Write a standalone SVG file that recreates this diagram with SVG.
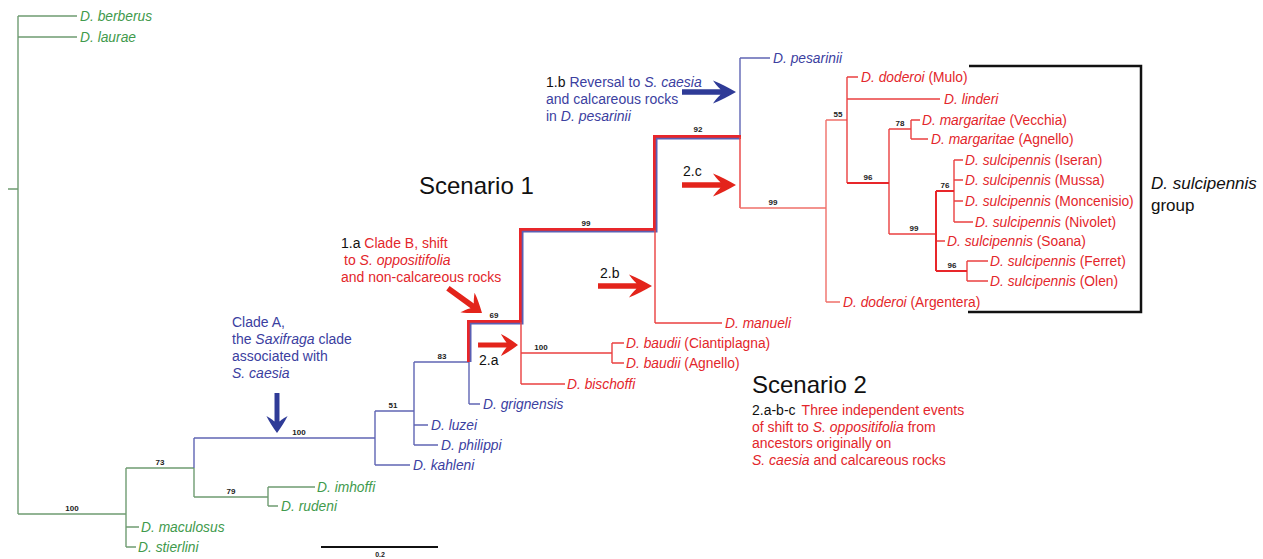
<svg xmlns="http://www.w3.org/2000/svg" xmlns:xlink="http://www.w3.org/1999/xlink" width="1263" height="559" viewBox="0 0 1263 559">
<style>
text{font-family:"Liberation Sans",Arial,sans-serif}
.sp{font-size:13.8px;font-style:italic}
.n{font-style:normal}
.it{font-style:italic}
.g{fill:#3f9a4c}
.b{fill:#3b409f}
.r{fill:#e3262b}
.k{fill:#111}
.bs{font-size:8px;font-weight:bold;fill:#222;text-anchor:middle}
.ann{font-size:14px}
.scen{font-size:24px;fill:#111}
.lg{stroke:#6f9c72;stroke-width:1.4;fill:none}
.lb{stroke:#6065b4;stroke-width:1.4;fill:none}
.lr{stroke:#ea4040;stroke-width:1.4;fill:none}
.lr2{stroke:#e8262a;stroke-width:2;fill:none}
</style>
<defs>
<path id="arr" d="M0,0 C-8,-4.5 -15,-8.5 -23,-11.5 C-19.5,-6.5 -17.5,-4.5 -15.5,-2.7 L-54,-2.7 L-54,2.7 L-15.5,2.7 C-17.5,4.5 -19.5,6.5 -23,11.5 C-15,8.5 -8,4.5 0,0 Z"/>
</defs>
<rect width="1263" height="559" fill="#fff"/>

<g id="connectors">
  <path class="lg" d="M8,189 H18 M18,16 V514 M18,16 H77 M18,37 H77 M18,514 H126 M126,468 V547 M126,527 H139 M126,547 H136 M126,468 H194 M194,468 V497 M194,497 H268 M268,487 V506 M268,487 H315 M268,506 H278"/>
  <path class="lb" d="M194,438 V468 M194,438 H375 M375,411 V465 M375,465 H410 M375,411 H414 M414,362 V445 M414,425 H428 M414,445 H438 M414,362 H469 M469,362 V404 M469,404 H480 M740,58 V137 M740,58 H770"/>
  <path d="M469,362 V322 H521 V230 H655 V137 H741" stroke="#e8262a" stroke-width="4" fill="none"/>
  <path d="M470.6,362 V323.6 H522.6 V231.6 H656.6 V138.6 H740" stroke="#5a5fb3" stroke-width="1.8" fill="none"/>
  <path class="lr" d="M521,322 V384 M521,353 H612 M521,384 H565 M612,343 V363 M612,343 H624 M612,363 H624 M655,230 V323 M655,323 H722 M740,137 V208"/>
  <path stroke="#f0706a" stroke-width="1.4" fill="none" d="M740,208 H826 M826,120 V302 M826,302 H840 M826,120 H847"/>
  <path class="lr" d="M847,77 V183 M847,77 H858 M847,99 H940 M889,129 V234 M889,129 H911 M911,120 V139 M911,120 H920 M911,139 H928 M889,234 H936 M936,241 H945 M954,160 V222 M954,160 H963 M954,180 H963 M954,201 H963 M954,222 H973 M967,261 V281 M967,261 H988 M967,281 H988"/>
  <path class="lr2" d="M847,183 H889 M936,191 V271 M936,191 H954 M936,271 H967"/>
  <path d="M969,66 H1141 V312 H968" stroke="#111" stroke-width="2.5" fill="none"/>
  <path d="M321,547 H438" stroke="#111" stroke-width="1.8"/>
</g>

<g id="bootstrap">
  <text class="bs" x="72" y="511">100</text>
  <text class="bs" x="160" y="465">73</text>
  <text class="bs" x="231" y="494">79</text>
  <text class="bs" x="299" y="435">100</text>
  <text class="bs" x="393" y="408">51</text>
  <text class="bs" x="442" y="359">83</text>
  <text class="bs" x="494" y="318">69</text>
  <text class="bs" x="586" y="226">99</text>
  <text class="bs" x="698" y="132">92</text>
  <text class="bs" x="541" y="350">100</text>
  <text class="bs" x="773" y="205">99</text>
  <text class="bs" x="838" y="117">55</text>
  <text class="bs" x="868" y="180">96</text>
  <text class="bs" x="900" y="126">78</text>
  <text class="bs" x="914" y="231">99</text>
  <text class="bs" x="945" y="188">76</text>
  <text class="bs" x="952" y="268">96</text>
  <text class="bs" x="380" y="557" style="font-size:7px">0.2</text>
</g>

<g id="n-berberus"><text class="sp g" x="80" y="21">D. berberus</text></g>
<g id="n-laurae"><text class="sp g" x="80" y="42">D. laurae</text></g>
<g id="n-maculosus"><text class="sp g" x="141" y="532">D. maculosus</text></g>
<g id="n-stierlini"><text class="sp g" x="138" y="552">D. stierlini</text></g>
<g id="n-imhoffi"><text class="sp g" x="317" y="492">D. imhoffi</text></g>
<g id="n-rudeni"><text class="sp g" x="281" y="511">D. rudeni</text></g>

<g id="n-kahleni"><text class="sp b" x="413" y="470">D. kahleni</text></g>
<g id="n-luzei"><text class="sp b" x="431" y="430">D. luzei</text></g>
<g id="n-philippi"><text class="sp b" x="441" y="450">D. philippi</text></g>
<g id="n-grignensis"><text class="sp b" x="483" y="409">D. grignensis</text></g>
<g id="n-pesarinii"><text class="sp b" x="773" y="63">D. pesarinii</text></g>

<g id="n-bischoffi"><text class="sp r" x="567" y="389">D. bischoffi</text></g>
<g id="n-baudii-c"><text class="sp r" x="626" y="348">D. baudii <tspan class="n">(Ciantiplagna)</tspan></text></g>
<g id="n-baudii-a"><text class="sp r" x="626" y="368">D. baudii <tspan class="n">(Agnello)</tspan></text></g>
<g id="n-manueli"><text class="sp r" x="725" y="328">D. manueli</text></g>
<g id="n-doderoi-m"><text class="sp r" x="861" y="82">D. doderoi <tspan class="n">(Mulo)</tspan></text></g>
<g id="n-linderi"><text class="sp r" x="944" y="104">D. linderi</text></g>
<g id="n-marg-v"><text class="sp r" x="922" y="125">D. margaritae <tspan class="n">(Vecchia)</tspan></text></g>
<g id="n-marg-a"><text class="sp r" x="931" y="144">D. margaritae <tspan class="n">(Agnello)</tspan></text></g>
<g id="n-sulc-is"><text class="sp r" x="965" y="165">D. sulcipennis <tspan class="n">(Iseran)</tspan></text></g>
<g id="n-sulc-mu"><text class="sp r" x="965" y="185">D. sulcipennis <tspan class="n">(Mussa)</tspan></text></g>
<g id="n-sulc-mo"><text class="sp r" x="965" y="206">D. sulcipennis <tspan class="n">(Moncenisio)</tspan></text></g>
<g id="n-sulc-ni"><text class="sp r" x="975" y="227">D. sulcipennis <tspan class="n">(Nivolet)</tspan></text></g>
<g id="n-sulc-so"><text class="sp r" x="947" y="246">D. sulcipennis <tspan class="n">(Soana)</tspan></text></g>
<g id="n-sulc-fe"><text class="sp r" x="990" y="266">D. sulcipennis <tspan class="n">(Ferret)</tspan></text></g>
<g id="n-sulc-ol"><text class="sp r" x="990" y="286">D. sulcipennis <tspan class="n">(Olen)</tspan></text></g>
<g id="n-doderoi-a"><text class="sp r" x="843" y="307">D. doderoi <tspan class="n">(Argentera)</tspan></text></g>

<g id="group-label">
  <text x="1151" y="189" style="font-size:17px;font-style:italic" class="k">D. sulcipennis</text>
  <text x="1151" y="211" style="font-size:17px" class="k">group</text>
</g>

<g id="scenario1"><text class="scen" x="419" y="194">Scenario 1</text></g>
<g id="scenario2"><text class="scen" x="752" y="393">Scenario 2</text></g>

<g id="ann-1b">
  <text class="ann b" x="546" y="87"><tspan class="k">1.b</tspan><tspan dx="4">Reversal to </tspan><tspan class="it">S. caesia</tspan></text>
  <text class="ann b" x="546" y="104">and calcareous rocks</text>
  <text class="ann b" x="546" y="121">in <tspan class="it">D. pesarinii</tspan></text>
  <use xlink:href="#arr" href="#arr" fill="#2f3b97" transform="translate(736,92)"/>
</g>
<g id="ann-1a">
  <text class="ann r" x="341" y="248"><tspan class="k">1.a</tspan> Clade B, shift</text>
  <text class="ann r" x="344" y="265">to <tspan class="it">S. oppositifolia</tspan></text>
  <text class="ann r" x="341" y="282">and non-calcareous rocks</text>
  <use xlink:href="#arr" href="#arr" fill="#e3241b" transform="translate(482,313) rotate(36) scale(0.78,1.05)"/>
</g>
<g id="ann-cladeA">
  <text class="ann b" x="232" y="327">Clade A,</text>
  <text class="ann b" x="232" y="344">the <tspan class="it">Saxifraga</tspan> clade</text>
  <text class="ann b" x="232" y="361">associated with</text>
  <text class="ann b" x="232" y="378"><tspan class="it">S. caesia</tspan></text>
  <use xlink:href="#arr" href="#arr" fill="#2f3b97" transform="translate(277,433) rotate(90) scale(0.74,0.92)"/>
</g>
<g id="ann-2a">
  <text class="ann k" x="479" y="365">2.a</text>
  <use xlink:href="#arr" href="#arr" fill="#e3241b" transform="translate(518,345) scale(0.74,0.95)"/>
</g>
<g id="ann-2b">
  <text class="ann k" x="600" y="278">2.b</text>
  <use xlink:href="#arr" href="#arr" fill="#e3241b" transform="translate(652,286)"/>
</g>
<g id="ann-2c">
  <text class="ann k" x="683" y="176">2.c</text>
  <use xlink:href="#arr" href="#arr" fill="#e3241b" transform="translate(736,185)"/>
</g>
<g id="ann-2abc">
  <text class="ann r" x="752" y="415"><tspan class="k">2.a-b-c</tspan><tspan dx="6">Three independent events</tspan></text>
  <text class="ann r" x="752" y="432">of shift to <tspan class="it">S. oppositifolia</tspan> from</text>
  <text class="ann r" x="752" y="448">ancestors originally on</text>
  <text class="ann r" x="752" y="465"><tspan class="it">S. caesia</tspan> and calcareous rocks</text>
</g>
</svg>
